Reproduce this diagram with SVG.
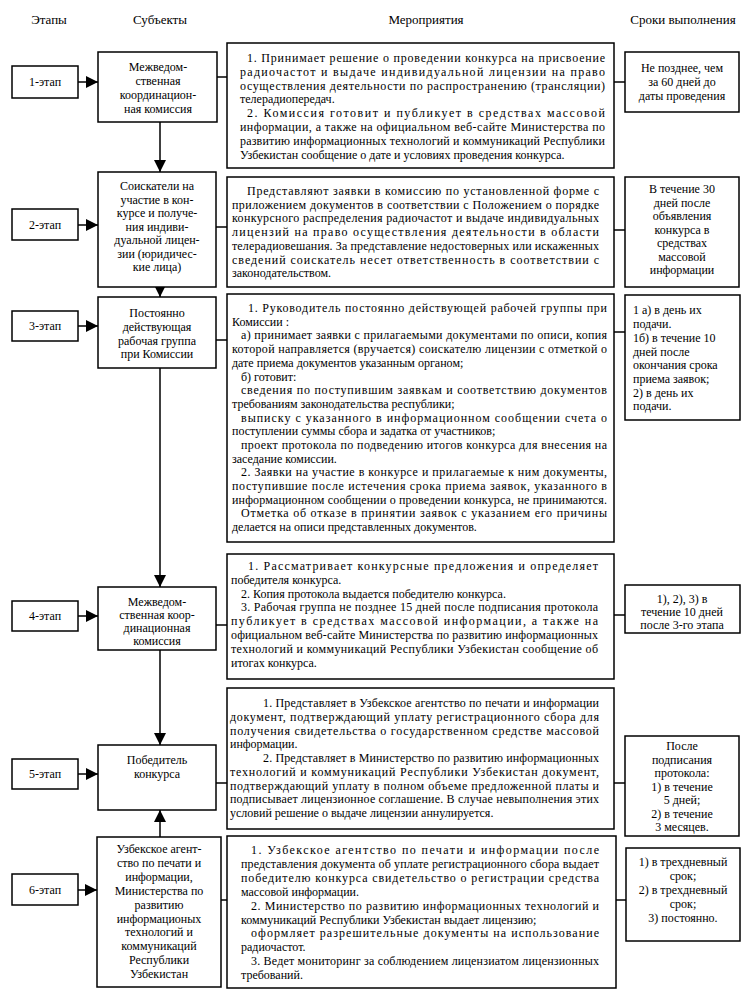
<svg xmlns="http://www.w3.org/2000/svg" width="754" height="1008" viewBox="0 0 754 1008">
<style>
.box{fill:#fff;stroke:#000;stroke-width:1.5}
.t{font-family:"Liberation Serif","Times New Roman",serif;font-size:12px;fill:#000}
.h{font-family:"Liberation Serif","Times New Roman",serif;font-size:13px;fill:#000;text-anchor:middle}
.c{text-anchor:middle}
.ln{stroke:#000;stroke-width:1.5;fill:none}
</style>
<defs>
<marker id="ah" markerUnits="userSpaceOnUse" markerWidth="12" markerHeight="12" refX="12" refY="6" orient="auto">
<path d="M0,0 L12,6 L0,12 z" fill="#000"/>
</marker>
</defs>
<rect width="754" height="1008" fill="#fff"/>
<g id="header">
<text class="h" x="49" y="24">Этапы</text>
<text class="h" x="160" y="24">Субъекты</text>
<text class="h" x="426" y="24">Мероприятия</text>
<text class="h" x="683" y="24">Сроки выполнения</text>
</g>

<g id="connectors">
<line class="ln" x1="78" y1="82" x2="98" y2="82" marker-end="url(#ah)"/>
<line class="ln" x1="78" y1="225" x2="98" y2="225" marker-end="url(#ah)"/>
<line class="ln" x1="78" y1="326" x2="98" y2="326" marker-end="url(#ah)"/>
<line class="ln" x1="78" y1="616" x2="98" y2="616" marker-end="url(#ah)"/>
<line class="ln" x1="78" y1="774" x2="98" y2="774" marker-end="url(#ah)"/>
<line class="ln" x1="78" y1="890" x2="97" y2="890" marker-end="url(#ah)"/>
<line class="ln" x1="217" y1="77" x2="227" y2="77"/>
<line class="ln" x1="614" y1="82" x2="625" y2="82"/>
<line class="ln" x1="216" y1="227" x2="227" y2="227"/>
<line class="ln" x1="614" y1="230" x2="625" y2="230"/>
<line class="ln" x1="216" y1="340" x2="227" y2="340"/>
<line class="ln" x1="614" y1="332" x2="625" y2="332"/>
<line class="ln" x1="216" y1="625" x2="227" y2="625"/>
<line class="ln" x1="614" y1="615" x2="625" y2="615"/>
<line class="ln" x1="216" y1="783" x2="227" y2="783"/>
<line class="ln" x1="614" y1="783" x2="625" y2="783"/>
<line class="ln" x1="221" y1="900" x2="227" y2="900"/>
<line class="ln" x1="616" y1="900" x2="626" y2="900"/>
<line class="ln" x1="160" y1="122" x2="160" y2="172" marker-end="url(#ah)"/>
<line class="ln" x1="160" y1="287" x2="160" y2="297" marker-end="url(#ah)"/>
<line class="ln" x1="160" y1="368" x2="160" y2="587" marker-end="url(#ah)"/>
<line class="ln" x1="160" y1="650" x2="160" y2="745" marker-end="url(#ah)"/>
<line class="ln" x1="160" y1="837" x2="160" y2="810" marker-end="url(#ah)"/>
</g>

<g id="stage1"><rect class="box" x="12" y="66" width="66" height="32"/><text class="t c" x="45" y="86">1-этап</text></g>
<g id="stage2"><rect class="box" x="12" y="209" width="66" height="31"/><text class="t c" x="45" y="229">2-этап</text></g>
<g id="stage3"><rect class="box" x="12" y="311" width="66" height="30"/><text class="t c" x="45" y="330">3-этап</text></g>
<g id="stage4"><rect class="box" x="12" y="601" width="66" height="30"/><text class="t c" x="45" y="620">4-этап</text></g>
<g id="stage5"><rect class="box" x="12" y="759" width="66" height="30"/><text class="t c" x="45" y="778">5-этап</text></g>
<g id="stage6"><rect class="box" x="12" y="874" width="66" height="31"/><text class="t c" x="45" y="894">6-этап</text></g>

<g id="subject1"><rect class="box" x="98" y="52" width="119" height="70"/>
<text class="t c" x="158" y="71">Межведом-</text>
<text class="t c" x="158" y="85">ственная</text>
<text class="t c" x="158" y="99">координацион-</text>
<text class="t c" x="158" y="113">ная комиссия</text></g>

<g id="subject2"><rect class="box" x="98" y="172" width="118" height="115"/>
<text class="t c" x="157" y="190">Соискатели на</text>
<text class="t c" x="157" y="203.5">участие в кон-</text>
<text class="t c" x="157" y="217">курсе и получе-</text>
<text class="t c" x="157" y="230.5">ния индиви-</text>
<text class="t c" x="157" y="244">дуальной лицен-</text>
<text class="t c" x="157" y="257.5">зии (юридичес-</text>
<text class="t c" x="157" y="271">кие лица)</text></g>

<g id="subject3"><rect class="box" x="98" y="297" width="118" height="71"/>
<text class="t c" x="157" y="317">Постоянно</text>
<text class="t c" x="157" y="331">действующая</text>
<text class="t c" x="157" y="345">рабочая группа</text>
<text class="t c" x="157" y="358">при Комиссии</text></g>

<g id="subject4"><rect class="box" x="98" y="587" width="118" height="63"/>
<text class="t c" x="157" y="606">Межведом-</text>
<text class="t c" x="157" y="619">ственная коор-</text>
<text class="t c" x="157" y="632">динационная</text>
<text class="t c" x="157" y="645">комиссия</text></g>

<g id="subject5"><rect class="box" x="98" y="745" width="118" height="65"/>
<text class="t c" x="157" y="764">Победитель</text>
<text class="t c" x="157" y="778">конкурса</text></g>

<g id="subject6"><rect class="box" x="97" y="837" width="124" height="150"/>
<text class="t c" x="159" y="853">Узбекское агент-</text>
<text class="t c" x="159" y="867">ство по печати и</text>
<text class="t c" x="159" y="881">информации,</text>
<text class="t c" x="159" y="895">Министерства по</text>
<text class="t c" x="159" y="908.5">развитию</text>
<text class="t c" x="159" y="922.5">информационых</text>
<text class="t c" x="159" y="936">технологий и</text>
<text class="t c" x="159" y="950">коммуникаций</text>
<text class="t c" x="159" y="964">Республики</text>
<text class="t c" x="159" y="978">Узбекистан</text></g>

<g id="activity1"><rect class="box" x="227" y="43" width="387" height="125"/>
<text class="t" x="247" y="62" textLength="358" lengthAdjust="spacing">1. Принимает решение о проведении конкурса на присвоение</text>
<text class="t" x="240" y="75.8" textLength="365" lengthAdjust="spacing">радиочастот и выдаче индивидуальной лицензии на право</text>
<text class="t" x="240" y="89.6" textLength="365" lengthAdjust="spacing">осуществления деятельности по распространению (трансляции)</text>
<text class="t" x="240" y="103.4">телерадиопередач.</text>
<text class="t" x="247" y="117.2" textLength="358" lengthAdjust="spacing">2. Комиссия готовит и публикует в средствах массовой</text>
<text class="t" x="240" y="131" textLength="365" lengthAdjust="spacing">информации, а также на официальном веб-сайте Министерства по</text>
<text class="t" x="240" y="144.8" textLength="365" lengthAdjust="spacing">развитию информационных технологий и коммуникаций Республики</text>
<text class="t" x="240" y="158.6">Узбекистан сообщение о дате и условиях проведения конкурса.</text></g>

<g id="activity2"><rect class="box" x="227" y="177" width="387" height="110"/>
<text class="t" x="247" y="195" textLength="352" lengthAdjust="spacing">Представляют заявки в комиссию по установленной форме с</text>
<text class="t" x="232" y="208.7" textLength="367" lengthAdjust="spacing">приложением документов в соответствии с Положением о порядке</text>
<text class="t" x="232" y="222.4" textLength="367" lengthAdjust="spacing">конкурсного распределения радиочастот и выдаче индивидуальных</text>
<text class="t" x="232" y="236.1" textLength="367" lengthAdjust="spacing">лицензий на право осуществления деятельности в области</text>
<text class="t" x="232" y="249.8" textLength="367" lengthAdjust="spacing">телерадиовешания. За представление недостоверных или искаженных</text>
<text class="t" x="232" y="263.5" textLength="367" lengthAdjust="spacing">сведений соискатель несет ответственность в соответствии с</text>
<text class="t" x="232" y="277.2">законодательством.</text></g>

<g id="activity3"><rect class="box" x="227" y="294" width="387" height="248"/>
<text class="t" x="248" y="312" textLength="359" lengthAdjust="spacing">1. Руководитель постоянно действующей рабочей группы при</text>
<text class="t" x="232" y="325.7">Комиссии :</text>
<text class="t" x="241" y="339.4" textLength="366" lengthAdjust="spacing">а) принимает заявки с прилагаемыми документами по описи, копия</text>
<text class="t" x="232" y="353.1" textLength="375" lengthAdjust="spacing">которой направляется (вручается) соискателю лицензии с отметкой о</text>
<text class="t" x="232" y="366.8">дате приема документов указанным органом;</text>
<text class="t" x="241" y="380.5">б) готовит:</text>
<text class="t" x="241" y="394.1" textLength="366" lengthAdjust="spacing">сведения по поступившим заявкам и соответствию документов</text>
<text class="t" x="232" y="407.8">требованиям законодательства республики;</text>
<text class="t" x="241" y="421.5" textLength="366" lengthAdjust="spacing">выписку с указанного в информационном сообщении счета о</text>
<text class="t" x="232" y="435.2">поступлении суммы сбора и задатка от участников;</text>
<text class="t" x="241" y="448.9" textLength="366" lengthAdjust="spacing">проект протокола по подведению итогов конкурса для внесения на</text>
<text class="t" x="232" y="462.6">заседание комиссии.</text>
<text class="t" x="241" y="476.3" textLength="366" lengthAdjust="spacing">2. Заявки на участие в конкурсе и прилагаемые к ним документы,</text>
<text class="t" x="232" y="490" textLength="375" lengthAdjust="spacing">поступившие после истечения срока приема заявок, указанного в</text>
<text class="t" x="232" y="503.7" textLength="375" lengthAdjust="spacing">информационном сообщении о проведении конкурса, не принимаются.</text>
<text class="t" x="241" y="517.4" textLength="366" lengthAdjust="spacing">Отметка об отказе в принятии заявок с указанием его причины</text>
<text class="t" x="232" y="531">делается на описи представленных документов.</text></g>

<g id="activity4"><rect class="box" x="227" y="554" width="387" height="125"/>
<text class="t" x="248" y="570" textLength="350" lengthAdjust="spacing">1. Рассматривает конкурсные предложения и определяет</text>
<text class="t" x="231" y="583.8">победителя конкурса.</text>
<text class="t" x="241" y="597.6">2. Копия протокола выдается победителю конкурса.</text>
<text class="t" x="241" y="611.4" textLength="357" lengthAdjust="spacing">3. Рабочая группа не позднее 15 дней после подписания протокола</text>
<text class="t" x="231" y="625.2" textLength="367" lengthAdjust="spacing">публикует в средствах массовой информации, а также на</text>
<text class="t" x="231" y="639" textLength="367" lengthAdjust="spacing">официальном веб-сайте Министерства по развитию информационных</text>
<text class="t" x="231" y="652.8" textLength="367" lengthAdjust="spacing">технологий и коммуникаций Республики Узбекистан сообщение об</text>
<text class="t" x="231" y="666.6">итогах конкурса.</text></g>

<g id="activity5"><rect class="box" x="227" y="688" width="387" height="141"/>
<text class="t" x="263" y="707" textLength="336" lengthAdjust="spacing">1. Представляет в Узбекское агентство по печати и информации</text>
<text class="t" x="230" y="720.8" textLength="369" lengthAdjust="spacing">документ, подтверждающий уплату регистрационного сбора для</text>
<text class="t" x="230" y="734.5" textLength="369" lengthAdjust="spacing">получения свидетельства о государственном средстве массовой</text>
<text class="t" x="230" y="748.3">информации.</text>
<text class="t" x="263" y="762" textLength="336" lengthAdjust="spacing">2. Представляет в Министерство по развитию информационных</text>
<text class="t" x="230" y="775.8" textLength="369" lengthAdjust="spacing">технологий и коммуникаций Республики Узбекистан документ,</text>
<text class="t" x="230" y="789.5" textLength="369" lengthAdjust="spacing">подтверждающий уплату в полном объеме предложенной платы и</text>
<text class="t" x="230" y="803.3" textLength="369" lengthAdjust="spacing">подписывает лицензионное соглашение. В случае невыполнения этих</text>
<text class="t" x="230" y="817">условий решение о выдаче лицензии аннулируется.</text></g>

<g id="activity6"><rect class="box" x="227" y="836" width="389" height="152"/>
<text class="t" x="251" y="854" textLength="348" lengthAdjust="spacing">1. Узбекское агентство по печати и информации после</text>
<text class="t" x="241" y="867.9" textLength="358" lengthAdjust="spacing">представления документа об уплате регистрационного сбора выдает</text>
<text class="t" x="241" y="881.8" textLength="358" lengthAdjust="spacing">победителю конкурса свидетельство о регистрации средства</text>
<text class="t" x="241" y="895.7">массовой информации.</text>
<text class="t" x="251" y="909.6" textLength="348" lengthAdjust="spacing">2. Министерство по развитию информационных технологий и</text>
<text class="t" x="241" y="923.5">коммуникаций Республики Узбекистан выдает лицензию;</text>
<text class="t" x="251" y="937.4" textLength="348" lengthAdjust="spacing">оформляет разрешительные документы на использование</text>
<text class="t" x="241" y="951.3">радиочастот.</text>
<text class="t" x="251" y="965.2" textLength="348" lengthAdjust="spacing">3. Ведет мониторинг за соблюдением лицензиатом лицензионных</text>
<text class="t" x="241" y="979.1">требований.</text></g>

<g id="time1"><rect class="box" x="625" y="52" width="114" height="60"/>
<text class="t c" x="682" y="72">Не позднее, чем</text>
<text class="t c" x="682" y="86">за 60 дней до</text>
<text class="t c" x="682" y="100">даты проведения</text></g>

<g id="time2"><rect class="box" x="625" y="177" width="114" height="110"/>
<text class="t c" x="682" y="193">В течение 30</text>
<text class="t c" x="682" y="206.5">дней после</text>
<text class="t c" x="682" y="220">объявления</text>
<text class="t c" x="682" y="233.5">конкурса в</text>
<text class="t c" x="682" y="247">средствах</text>
<text class="t c" x="682" y="260.5">массовой</text>
<text class="t c" x="682" y="274">информации</text></g>

<g id="time3"><rect class="box" x="625" y="295" width="115" height="125"/>
<text class="t" x="633" y="314">1 а) в день их</text>
<text class="t" x="633" y="328">подачи.</text>
<text class="t" x="633" y="342">1б) в течение 10</text>
<text class="t" x="633" y="356">дней после</text>
<text class="t" x="633" y="369">окончания срока</text>
<text class="t" x="633" y="383">приема заявок;</text>
<text class="t" x="633" y="397">2) в день их</text>
<text class="t" x="633" y="410">подачи.</text></g>

<g id="time4"><rect class="box" x="625" y="585" width="115" height="48"/>
<text class="t c" x="682" y="603">1), 2), 3) в</text>
<text class="t c" x="682" y="616">течение 10 дней</text>
<text class="t c" x="682" y="629">после 3-го этапа</text></g>

<g id="time5"><rect class="box" x="625" y="736" width="114" height="100"/>
<text class="t c" x="682" y="750">После</text>
<text class="t c" x="682" y="763.5">подписания</text>
<text class="t c" x="682" y="777">протокола:</text>
<text class="t c" x="682" y="790.5">1) в течение</text>
<text class="t c" x="682" y="804">5 дней;</text>
<text class="t c" x="682" y="817.5">2) в течение</text>
<text class="t c" x="682" y="831">3 месяцев.</text></g>

<g id="time6"><rect class="box" x="626" y="848" width="114" height="93"/>
<text class="t c" x="683" y="866">1) в трехдневный</text>
<text class="t c" x="683" y="880">срок;</text>
<text class="t c" x="683" y="894">2) в трехдневный</text>
<text class="t c" x="683" y="908">срок;</text>
<text class="t c" x="683" y="922">3) постоянно.</text></g>
</svg>
